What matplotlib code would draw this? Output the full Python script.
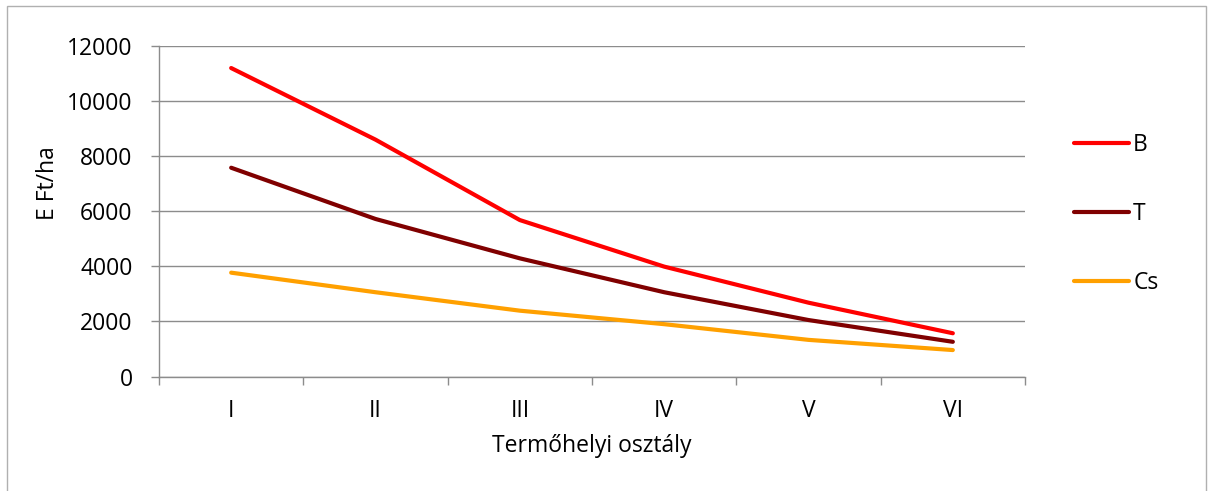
import matplotlib.pyplot as plt
from matplotlib.patches import Rectangle

categories = ['I', 'II', 'III', 'IV', 'V', 'VI']
b_values = [11200, 8600, 5680, 3990, 2680, 1570]
t_values = [7580, 5720, 4290, 3060, 2050, 1260]
cs_values = [3770, 3060, 2390, 1900, 1330, 960]
y_ticks = [0, 2000, 4000, 6000, 8000, 10000, 12000]

plt.rcParams['font.family'] = ['Open Sans', 'DejaVu Sans']
grid_col = '#8c8c8c'
fs = 16.5

fig = plt.figure(figsize=(12.13, 4.91), dpi=100)
ax = fig.add_axes([159 / 1213, 1 - 376.5 / 491, 866 / 1213, 330.5 / 491])

x = list(range(len(categories)))
ax.plot(x, b_values, color='#ff0000', lw=3, solid_capstyle='round', label='B')
ax.plot(x, t_values, color='#800000', lw=3, solid_capstyle='round', label='T')
ax.plot(x, cs_values, color='#ffa000', lw=3, solid_capstyle='round', label='Cs')

ax.set_xlim(-0.5, len(categories) - 0.5)
ax.set_ylim(0, 12000)
ax.set_yticks(y_ticks)
ax.set_yticklabels([str(v) for v in y_ticks])
ax.set_xticks(x)
ax.set_xticklabels(categories)
ax.set_xticks([i - 0.5 for i in range(len(categories) + 1)], minor=True)
ax.tick_params(axis='x', which='major', length=0, pad=16, labelsize=fs)
ax.tick_params(axis='x', which='minor', length=6, color=grid_col, width=1)
ax.tick_params(axis='y', length=6, color=grid_col, width=1, pad=13, labelsize=fs)

ax.yaxis.grid(True, color=grid_col, lw=1)
ax.set_axisbelow(True)
for s in ['top', 'right']:
    ax.spines[s].set_visible(False)
for s in ['left', 'bottom']:
    ax.spines[s].set_color(grid_col)
    ax.spines[s].set_linewidth(1)

fig.text(592 / 1213, 1 - 446 / 491, 'Termőhelyi osztály', ha='center', va='center', fontsize=fs)
fig.text(48 / 1213, 1 - 183 / 491, 'E Ft/ha', ha='center', va='center', rotation=90, fontsize=fs)

ax.legend(loc='center left', bbox_to_anchor=(1053 / 1213, 1 - 214 / 491),
          bbox_transform=fig.transFigure, frameon=False, fontsize=fs,
          handlelength=2.4, handletextpad=0.2, labelspacing=1.95)

fig.patches.append(Rectangle((7 / 1213, -0.05), 1199 / 1213, 1.05 - 6 / 491,
                             transform=fig.transFigure, fill=False,
                             edgecolor='#b0b0b0', lw=1))

fig.savefig('out.png', dpi=100)
